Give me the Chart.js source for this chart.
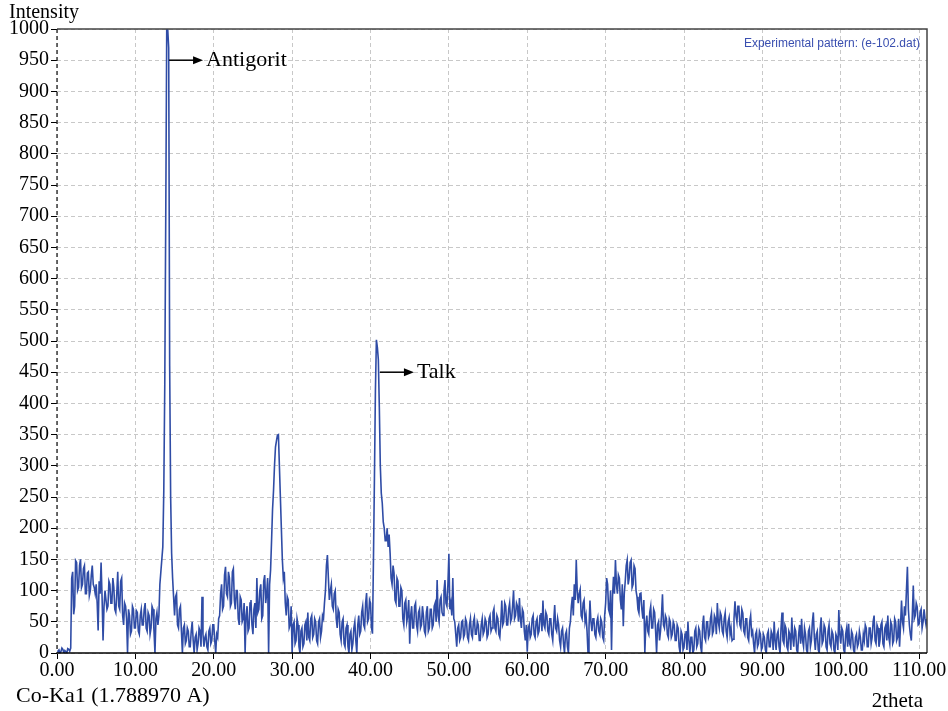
<!DOCTYPE html>
<html lang="en">
  <head>
    <meta charset="UTF-8" />
    <title>XRD pattern e-102</title>
    <script src="https://cdn.jsdelivr.net/npm/chart.js@4"></script>
    <style>
      body {
        margin: 0;
        background: #fff;
      }
      canvas {
        display: block;
      }
    </style>
  </head>
  <body>
    <canvas id="xrd" width="948" height="711"></canvas>
    <script>
      // 2theta sampling of the pattern
      const thetaStart = 0;
      const thetaStep = 0.125;

      // intensity, eight readings per degree
      const intensity = [
        0, 3, 5, 0, 2, 8, 6, 0,                 // 0
        4, 2, 0, 7, 6, 3, 8, 120,               // 1
        130, 62, 75, 148, 145, 100, 105, 140,   // 2
        150, 105, 110, 135, 140, 95, 95, 128,   // 3
        130, 92, 100, 125, 140, 110, 105, 95,   // 4
        110, 80, 36, 115, 95, 145, 90, 20,      // 5
        75, 100, 100, 70, 75, 115, 110, 80,     // 6
        80, 120, 105, 70, 65, 95, 130, 75,      // 7
        70, 115, 120, 60, 45, 80, 75, 55,       // 8
        0, 70, 60, 30, 35, 75, 70, 40,          // 9
        40, 68, 65, 35, 30, 60, 70, 45,         // 10
        45, 70, 80, 40, 35, 65, 60, 30,         // 11
        40, 75, 70, 35, 0, 55, 65, 45,          // 12
        60, 110, 130, 150, 170, 260, 430, 700,  // 13
        1000, 1000, 970, 460, 250, 160, 120, 90,// 14
        60, 90, 95, 45, 40, 70, 75, 35,         // 15
        0, 40, 45, 15, 20, 40, 35, 10,          // 16
        10, 35, 50, 20, 0, 25, 30, 5,           // 17
        15, 40, 35, 10, 90, 30, 10, 25,         // 18
        30, 10, 5, 35, 40, 15, 20, 45,          // 19
        45, 20, 0, 30, 25, 55, 60, 95,          // 20
        110, 70, 75, 125, 138, 95, 90, 130,     // 21
        120, 75, 80, 130, 135, 85, 70, 100,     // 22
        100, 55, 45, 90, 85, 50, 55, 80,        // 23
        0, 60, 75, 35, 40, 80, 85, 45,          // 24
        30, 70, 80, 40, 120, 65, 70, 100,       // 25
        110, 55, 60, 115, 125, 80, 95, 120,     // 26
        0, 110, 133, 180, 230, 260, 300, 330,   // 27
        340, 349, 350, 300, 250, 200, 150, 120, // 28
        130, 80, 60, 90, 85, 40, 45, 75,        // 29
        0, 45, 50, 15, 20, 55, 45, 10,          // 30
        0, 35, 40, 10, 15, 45, 50, 20,          // 31
        65, 25, 20, 55, 60, 25, 30, 55,         // 32
        50, 20, 15, 50, 55, 25, 35, 60,         // 33
        55, 80, 100, 140, 157, 120, 85, 100,    // 34
        110, 75, 70, 95, 100, 55, 40, 70,       // 35
        65, 30, 20, 50, 55, 15, 10, 40,         // 36
        45, 10, 0, 30, 35, 5, 15, 40,           // 37
        50, 20, 0, 45, 60, 30, 35, 65,          // 38
        75, 45, 40, 80, 96, 50, 55, 85,         // 39
        80, 40, 31, 149, 280, 420, 502, 490,    // 40
        470, 394, 300, 256, 240, 210, 200, 180, // 41
        180, 200, 170, 190, 160, 120, 110, 140, // 42
        128, 85, 80, 120, 115, 75, 75, 105,     // 43
        100, 55, 45, 80, 85, 50, 60, 85,        // 44
        15, 60, 75, 40, 40, 75, 80, 45,         // 45
        35, 65, 70, 40, 45, 75, 60, 35,         // 46
        30, 65, 75, 35, 40, 70, 70, 40,         // 47
        45, 75, 80, 50, 117, 60, 50, 85,        // 48
        90, 65, 60, 100, 117, 80, 75, 110,      // 49
        159, 70, 80, 60, 120, 55, 50, 30,       // 50
        10, 40, 45, 20, 25, 50, 52, 25,         // 51
        30, 55, 50, 25, 20, 45, 55, 30,         // 52
        25, 50, 57, 30, 30, 50, 45, 20,         // 53
        20, 45, 55, 30, 35, 55, 50, 25,         // 54
        30, 55, 60, 35, 40, 65, 71, 40,         // 55
        35, 60, 55, 30, 25, 50, 84, 45,         // 56
        50, 80, 75, 45, 45, 70, 80, 50,         // 57
        55, 75, 100, 55, 60, 80, 75, 50,        // 58
        88, 55, 40, 70, 65, 35, 20, 45,         // 59
        2, 40, 45, 25, 30, 55, 60, 30,          // 60
        25, 50, 55, 30, 35, 60, 64, 35,         // 61
        84, 45, 40, 65, 60, 35, 30, 55,         // 62
        55, 30, 20, 50, 77, 40, 35, 55,         // 63
        45, 20, 10, 35, 40, 15, 0, 30,          // 64
        35, 10, 0, 40, 50, 75, 90, 60,          // 65
        110, 85, 149, 100, 80, 95, 102, 60,     // 66
        55, 80, 85, 50, 60, 35, 0, 40,          // 67
        84, 50, 35, 55, 55, 30, 25, 50,         // 68
        57, 35, 30, 55, 50, 25, 20, 60,         // 69
        80, 120, 110, 70, 64, 100, 5, 90,       // 70
        122, 95, 149, 110, 95, 125, 120, 85,    // 71
        70, 110, 43, 95, 115, 140, 149, 110,    // 72
        120, 145, 149, 105, 110, 140, 135, 100, // 73
        90, 70, 64, 95, 96, 70, 55, 85,         // 74
        0, 45, 60, 35, 30, 65, 75, 40,          // 75
        40, 70, 65, 35, 0, 45, 50, 20,          // 76
        35, 60, 94, 45, 40, 60, 55, 30,         // 77
        25, 55, 50, 25, 30, 50, 45, 20,         // 78
        20, 45, 40, 10, 0, 35, 30, 5,           // 79
        10, 30, 35, 5, 50, 20, 0, 25,           // 80
        25, 0, 5, 35, 40, 10, 15, 40,           // 81
        35, 10, 0, 45, 60, 25, 20, 50,          // 82
        50, 25, 30, 55, 64, 30, 35, 60,         // 83
        55, 30, 80, 50, 40, 65, 60, 35,         // 84
        30, 55, 64, 35, 25, 50, 57, 30,         // 85
        40, 20, 22, 55, 83, 60, 50, 75,         // 86
        75, 45, 40, 70, 64, 35, 30, 55,         // 87
        55, 25, 20, 50, 60, 30, 35, 15,         // 88
        0, 30, 35, 10, 15, 35, 30, 5,           // 89
        10, 30, 25, 5, 0, 30, 35, 10,           // 90
        10, 35, 30, 5, 50, 20, 5, 30,           // 91
        35, 10, 0, 40, 65, 20, 15, 45,          // 92
        40, 10, 5, 35, 30, 5, 57, 25,           // 93
        10, 40, 35, 5, 0, 30, 45, 15,           // 94
        55, 20, 10, 40, 30, 5, 0, 35,           // 95
        40, 10, 20, 50, 65, 25, 5, 30,          // 96
        35, 5, 0, 40, 57, 15, 20, 45,           // 97
        40, 10, 5, 35, 45, 15, 10, 35,          // 98
        30, 5, 0, 30, 25, 5, 69, 30,            // 99
        15, 40, 35, 5, 0, 30, 40, 10,           // 100
        47, 15, 10, 35, 30, 5, 0, 25,           // 101
        30, 10, 15, 35, 25, 5, 5, 30,           // 102
        20, 45, 40, 10, 10, 40, 40, 15,         // 103
        25, 50, 60, 20, 15, 45, 40, 10,         // 104
        20, 45, 50, 15, 10, 40, 45, 20,         // 105
        60, 25, 15, 50, 45, 15, 20, 55,         // 106
        50, 20, 25, 55, 10, 45, 84, 50,         // 107
        40, 75, 60, 100, 138, 70, 45, 30,       // 108
        20, 60, 108, 55, 60, 80, 74, 45,        // 109
        47, 65, 70, 40, 50, 70, 55, 45,         // 110
        55                                      // 111
      ];

      const xTicks = [0, 10, 20, 30, 40, 50, 60, 70, 80, 90, 100, 110];
      const yTicks = [0, 50, 100, 150, 200, 250, 300, 350, 400, 450, 500,
        550, 600, 650, 700, 750, 800, 850, 900, 950, 1000];

      // phase markers: name, 2theta where the arrow starts, intensity level of the arrow
      const phaseNames = ["Antigorit", "Talk"];
      const phaseTheta = [14.3, 41.2];
      const phaseLevel = [950, 450];

      const legendText = "Experimental pattern: (e-102.dat)";

      const points = intensity.map((v, i) => ({ x: thetaStart + i * thetaStep, y: v }));

      const serif = "'Liberation Serif', 'Times New Roman', serif";
      const lineBlue = "#2f4ca6";

      // frame, axis captions and phase arrows
      const decorations = {
        id: "decorations",
        afterDraw(chart) {
          const { ctx, chartArea: a, scales } = chart;
          ctx.save();

          // top and right frame
          ctx.strokeStyle = "#444";
          ctx.lineWidth = 1.5;
          ctx.beginPath();
          ctx.moveTo(a.left, a.top);
          ctx.lineTo(a.right, a.top);
          ctx.lineTo(a.right, a.bottom);
          ctx.stroke();

          // bottom axis
          ctx.strokeStyle = "#000";
          ctx.beginPath();
          ctx.moveTo(a.left, a.bottom);
          ctx.lineTo(a.right, a.bottom);
          ctx.stroke();

          // left axis, dashed
          ctx.setLineDash([4, 3]);
          ctx.lineWidth = 1.3;
          ctx.strokeStyle = "#222";
          ctx.beginPath();
          ctx.moveTo(a.left, a.top);
          ctx.lineTo(a.left, a.bottom);
          ctx.stroke();
          ctx.setLineDash([]);

          // captions
          ctx.fillStyle = "#000";
          ctx.textBaseline = "alphabetic";
          ctx.textAlign = "left";
          ctx.font = "20px " + serif;
          ctx.fillText("Intensity", 9, 18);
          ctx.font = "22px " + serif;
          ctx.fillText("Co-Ka1 (1.788970 A)", 16, 702);
          ctx.font = "21px " + serif;
          ctx.textAlign = "right";
          ctx.fillText("2theta", 923, 707);

          // legend
          ctx.font = "12px 'Liberation Sans', Arial, sans-serif";
          ctx.fillStyle = "#3a4fb0";
          ctx.fillText(legendText, 920, 47);

          // phase arrows
          ctx.fillStyle = "#000";
          ctx.strokeStyle = "#000";
          ctx.lineWidth = 1.5;
          phaseNames.forEach((name, i) => {
            const x0 = scales.x.getPixelForValue(phaseTheta[i]);
            const y0 = scales.y.getPixelForValue(phaseLevel[i]);
            const x1 = x0 + 34;
            ctx.beginPath();
            ctx.moveTo(x0, y0);
            ctx.lineTo(x1 - 8, y0);
            ctx.stroke();
            ctx.beginPath();
            ctx.moveTo(x1, y0);
            ctx.lineTo(x1 - 10, y0 - 4);
            ctx.lineTo(x1 - 10, y0 + 4);
            ctx.closePath();
            ctx.fill();
            ctx.font = "22px " + serif;
            ctx.textAlign = "left";
            ctx.textBaseline = "middle";
            ctx.fillText(name, x1 + 3, y0);
          });

          ctx.restore();
        },
      };

      new Chart(document.getElementById("xrd"), {
        type: "line",
        data: {
          datasets: [
            {
              data: points,
              borderColor: lineBlue,
              borderWidth: 1.6,
              pointRadius: 0,
              tension: 0,
              fill: false,
            },
          ],
        },
        options: {
          responsive: false,
          animation: false,
          layout: { padding: { top: 29, right: 21, left: 0, bottom: 0 } },
          plugins: {
            legend: { display: false },
            tooltip: { enabled: false },
          },
          scales: {
            x: {
              type: "linear",
              min: 0,
              max: 111,
              afterBuildTicks: (s) => {
                s.ticks = xTicks.map((v) => ({ value: v }));
              },
              afterFit: (s) => {
                s.height = 58;
              },
              ticks: {
                color: "#000",
                font: { family: serif, size: 20 },
                padding: 0,
                maxRotation: 0,
                autoSkip: false,
                callback: (v) => v.toFixed(2),
              },
              grid: {
                color: "#c8c8c8",
                tickColor: "#000",
                tickLength: 6,
                lineWidth: 1,
              },
              border: { display: false, dash: [4, 3] },
            },
            y: {
              min: 0,
              max: 1000,
              afterBuildTicks: (s) => {
                s.ticks = yTicks.map((v) => ({ value: v }));
              },
              afterFit: (s) => {
                s.width = 57;
              },
              ticks: {
                color: "#000",
                font: { family: serif, size: 20 },
                padding: 2,
                autoSkip: false,
                callback: (v) => String(v),
              },
              grid: {
                color: "#c8c8c8",
                tickColor: "#000",
                tickLength: 6,
                lineWidth: 1,
              },
              border: { display: false, dash: [4, 3] },
            },
          },
        },
        plugins: [decorations],
      });
    </script>
  </body>
</html>
